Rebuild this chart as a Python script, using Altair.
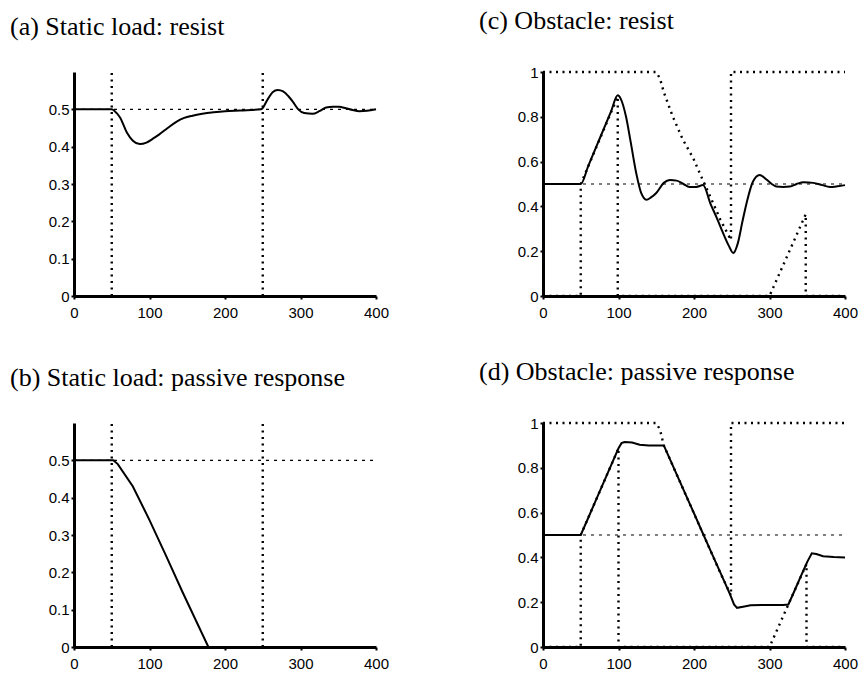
import altair as alt
import pandas as pd

# ---------------- data ----------------
x_ticks = [0, 100, 200, 300, 400]
y_ticks_static = [0, 0.1, 0.2, 0.3, 0.4, 0.5]
y_ticks_obst = [0, 0.2, 0.4, 0.6, 0.8, 1.0]

# (a) Static load: resist  - solid response
a_t = [0, 50, 54, 61, 70, 78, 87, 96, 105, 113, 124, 135, 146, 157, 170, 185, 200, 220, 248,
       256, 263, 270, 277, 284, 290, 297, 305, 316, 325, 334, 343, 351, 360, 369, 378, 388, 400]
a_v = [0.5, 0.5, 0.495, 0.478, 0.438, 0.416, 0.407, 0.411, 0.422, 0.433, 0.45, 0.466, 0.477, 0.483,
       0.488, 0.492, 0.495, 0.497, 0.5, 0.525, 0.546, 0.552, 0.548, 0.535, 0.52, 0.5, 0.49, 0.488,
       0.495, 0.505, 0.507, 0.507, 0.503, 0.498, 0.495, 0.496, 0.5]

# (b) Static load: passive response
b_t = [0, 52, 58, 78, 100, 122, 144, 178, 400]
b_v = [0.5, 0.5, 0.49, 0.43, 0.34, 0.244, 0.146, 0.0, 0.0]

# event markers for (a)/(b)
static_events = [50, 250]
reference_level = 0.5

# (c) Obstacle: resist
c_t = [0, 50, 60, 75, 90, 99, 103, 110, 116, 124, 130, 137, 143, 150, 160, 168, 177, 186, 194, 203,
       212, 222, 230, 238, 246, 252, 258, 264, 270, 278, 287, 296, 303, 309, 318, 327, 336, 345, 358,
       370, 380, 390, 400]
c_v = [0.5, 0.5, 0.581, 0.702, 0.823, 0.896, 0.88, 0.8, 0.69, 0.54, 0.46, 0.43, 0.44, 0.46, 0.505,
       0.518, 0.515, 0.5, 0.487, 0.487, 0.495, 0.41, 0.35, 0.285, 0.225, 0.192, 0.235, 0.33, 0.42,
       0.51, 0.54, 0.52, 0.5, 0.489, 0.487, 0.489, 0.5, 0.508, 0.505, 0.495, 0.487, 0.49, 0.495]
c_upper_t = [0, 150, 155, 160, 172, 185, 199, 210, 222, 235, 249, 249, 400]
c_upper_v = [1, 1, 0.97, 0.91, 0.80, 0.70, 0.615, 0.53, 0.44, 0.34, 0.25, 1, 1]
c_lower_t = [0, 50, 50, 99, 99, 300, 348, 348, 400]
c_lower_v = [0, 0, 0.5, 0.89, 0, 0, 0.365, 0, 0]

# (d) Obstacle: passive response
d_t = [0, 50, 60, 75, 90, 100, 104, 108, 118, 128, 140, 150, 160, 170, 185, 200, 210, 225, 240,
       248, 253, 257, 265, 275, 290, 305, 318, 325, 333, 342, 350, 356, 362, 371, 385, 400]
d_v = [0.5, 0.5, 0.577, 0.694, 0.81, 0.887, 0.91, 0.915, 0.913, 0.903, 0.9, 0.9, 0.9, 0.824, 0.71,
       0.597, 0.52, 0.407, 0.294, 0.233, 0.19, 0.175, 0.18, 0.186, 0.188, 0.188, 0.188, 0.19, 0.25,
       0.32, 0.38, 0.418, 0.415, 0.405, 0.402, 0.4]
d_upper_t = [0, 150, 155, 160, 185, 210, 235, 249, 249, 400]
d_upper_v = [1, 1, 0.97, 0.9, 0.71, 0.52, 0.33, 0.23, 1, 1]
d_lower_t = [0, 50, 50, 100, 100, 300, 325, 349, 349, 400]
d_lower_v = [0, 0, 0.5, 0.887, 0, 0, 0.19, 0.37, 0, 0]

titles = ["(a) Static load: resist", "(b) Static load: passive response",
          "(c) Obstacle: resist", "(d) Obstacle: passive response"]

# ---------------- helpers ----------------
LABEL_FONT = "Liberation Sans"
TITLE_FONT = "Liberation Serif"
W, H = 302, 224


def series(t, v):
    return pd.DataFrame({"t": t, "v": v, "o": list(range(len(t)))})


def panel(title, ymax, yvals, solid, dotted=(), events=None, smooth=False):
    xs = alt.Scale(domain=[0, 400], nice=False, zero=False)
    ys = alt.Scale(domain=[0, ymax], nice=False)
    xaxis = alt.Axis(values=x_ticks, format="d", title=None, grid=False,
                     labelFont=LABEL_FONT, labelFontSize=15, labelColor="black",
                     domainColor="black", domainWidth=3, tickColor="black",
                     tickSize=3, tickWidth=2, labelPadding=6, labelFlush=False)
    yaxis = alt.Axis(values=yvals, format=".1~f", title=None, grid=False,
                     labelFont=LABEL_FONT, labelFontSize=15, labelColor="black",
                     domainColor="black", domainWidth=3, tickColor="black",
                     tickSize=3, tickWidth=2, labelPadding=2)

    ref = pd.DataFrame({"t": [0, 400], "v": [reference_level, reference_level], "o": [0, 1]})
    layers = [
        alt.Chart(ref).mark_line(color="black", strokeWidth=1.2, strokeDash=[3, 5]).encode(
            x=alt.X("t:Q", scale=xs, axis=xaxis),
            y=alt.Y("v:Q", scale=ys, axis=yaxis),
            order="o:Q",
        )
    ]
    if events is not None:
        ev = pd.DataFrame({"t": events, "y0": [0] * len(events), "y1": [ymax] * len(events)})
        layers.append(
            alt.Chart(ev).mark_rule(color="black", strokeWidth=2.4, strokeDash=[2, 4.5]).encode(
                x=alt.X("t:Q", scale=xs), y=alt.Y("y0:Q", scale=ys), y2="y1:Q"
            )
        )
    for df in dotted:
        layers.append(
            alt.Chart(df).mark_line(color="black", strokeWidth=2.4, strokeDash=[2, 4.5]).encode(
                x=alt.X("t:Q", scale=xs), y=alt.Y("v:Q", scale=ys), order="o:Q"
            )
        )
    layers.append(
        alt.Chart(solid).mark_line(color="black", strokeWidth=2,
                                   interpolate="monotone" if smooth else "linear").encode(
            x=alt.X("t:Q", scale=xs), y=alt.Y("v:Q", scale=ys), order="o:Q"
        )
    )
    return alt.layer(*layers).properties(
        width=W, height=H,
        title=alt.TitleParams(title, anchor="start", frame="group", dx=-64,
                              font=TITLE_FONT, fontSize=26, fontWeight="normal",
                              color="black", baseline="bottom", offset=5),
    )


pa = panel(titles[0], 0.6, y_ticks_static, series(a_t, a_v), events=static_events, smooth=True)
pb = panel(titles[1], 0.6, y_ticks_static, series(b_t, b_v), events=static_events)
pc = panel(titles[2], 1.0, y_ticks_obst, series(c_t, c_v),
           dotted=[series(c_upper_t, c_upper_v), series(c_lower_t, c_lower_v)], smooth=True)
pd_ = panel(titles[3], 1.0, y_ticks_obst, series(d_t, d_v),
            dotted=[series(d_upper_t, d_upper_v), series(d_lower_t, d_lower_v)])

chart = alt.vconcat(
    alt.hconcat(pa, pc, spacing=90),
    alt.hconcat(pb, pd_, spacing=90),
    spacing=39,
).properties(
    padding={"left": 10, "top": 8, "right": 0, "bottom": 0},
    background="white",
).configure_view(stroke=None)

chart.save("out.html", embed_options={"renderer": "svg", "actions": False})
